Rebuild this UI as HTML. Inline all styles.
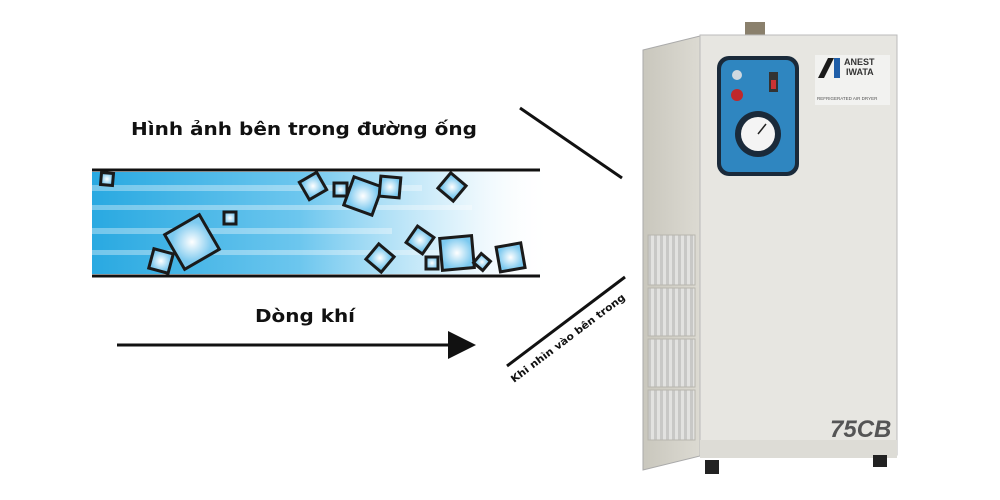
<!DOCTYPE html>
<html><head><meta charset="utf-8"><style>
html,body{margin:0;padding:0;background:#fff;width:1000px;height:500px;overflow:hidden}
svg{display:block}
text{font-family:"Liberation Sans","DejaVu Sans",sans-serif}
.dv{font-family:"DejaVu Sans","Liberation Sans",sans-serif}
</style></head><body>
<svg width="1000" height="500" viewBox="0 0 1000 500">
<defs>
<linearGradient id="flow" x1="0" x2="1" y1="0" y2="0">
<stop offset="0" stop-color="#29a9e1"/><stop offset="0.45" stop-color="#6cc6ee"/><stop offset="0.8" stop-color="#d9f0fb" stop-opacity="0.8"/><stop offset="1" stop-color="#fff" stop-opacity="0"/>
</linearGradient>
<radialGradient id="cube"><stop offset="0" stop-color="#fff"/><stop offset="1" stop-color="#7cc9ef"/></radialGradient>
<linearGradient id="side" x1="0" x2="1"><stop offset="0" stop-color="#c9c7bd"/><stop offset="1" stop-color="#dcdad2"/></linearGradient>
<pattern id="grill" width="6" height="4" patternUnits="userSpaceOnUse"><rect width="6" height="4" fill="#e2e2e0"/><rect width="3" height="4" fill="#c8c8c6"/></pattern>
</defs>
<rect x="92" y="172" width="460" height="102" fill="url(#flow)"/>
<g fill="#fff" opacity="0.35">
<rect x="92" y="185" width="330" height="6"/><rect x="92" y="205" width="380" height="5"/><rect x="92" y="228" width="300" height="6"/><rect x="92" y="250" width="350" height="5"/>
</g>
<line x1="92" y1="170" x2="540" y2="170" stroke="#111" stroke-width="3"/>
<line x1="92" y1="276" x2="540" y2="276" stroke="#111" stroke-width="3"/>
<g fill="url(#cube)" stroke="#1a1a1a" stroke-width="3">
<rect x="101" y="173" width="12" height="12" transform="rotate(5 107 179)"/>
<rect x="172" y="222" width="40" height="40" transform="rotate(-30 192 242)"/>
<rect x="151" y="251" width="20" height="20" transform="rotate(15 161 261)"/>
<rect x="224" y="212" width="12" height="12"/>
<rect x="303" y="176" width="20" height="20" transform="rotate(-30 313 186)"/>
<rect x="334" y="183" width="13" height="13"/>
<rect x="348" y="181" width="30" height="30" transform="rotate(20 363 196)"/>
<rect x="380" y="177" width="20" height="20" transform="rotate(5 390 187)"/>
<rect x="442" y="177" width="20" height="20" transform="rotate(40 452 187)"/>
<rect x="410" y="230" width="20" height="20" transform="rotate(35 420 240)"/>
<rect x="370" y="248" width="20" height="20" transform="rotate(40 380 258)"/>
<rect x="426" y="257" width="12" height="12"/>
<rect x="441" y="237" width="32" height="32" transform="rotate(-5 457 253)"/>
<rect x="476" y="256" width="12" height="12" transform="rotate(40 482 262)"/>
<rect x="498" y="245" width="25" height="25" transform="rotate(-10 510 257)"/>
</g>
<text class="dv" x="304" y="135" font-size="18" font-weight="bold" text-anchor="middle" fill="#111" textLength="346" lengthAdjust="spacingAndGlyphs">Hình ảnh bên trong đường ống</text>
<text class="dv" x="305" y="322" font-size="18" font-weight="bold" text-anchor="middle" fill="#111" textLength="100" lengthAdjust="spacingAndGlyphs">Dòng khí</text>
<line x1="117" y1="345" x2="452" y2="345" stroke="#111" stroke-width="3"/>
<polygon points="448,331 476,345 448,359" fill="#111"/>
<line x1="520" y1="108" x2="622" y2="178" stroke="#111" stroke-width="3"/>
<line x1="507" y1="366" x2="625" y2="277" stroke="#111" stroke-width="3"/>
<text class="dv" transform="translate(514,383) rotate(-37)" font-size="10" font-weight="bold" fill="#111" textLength="140" lengthAdjust="spacingAndGlyphs">Khi nhìn vào bên trong</text>
<rect x="745" y="22" width="20" height="16" fill="#8a806c"/>
<polygon points="643,50 700,36 700,456 643,470" fill="url(#side)" stroke="#aaa" stroke-width="1"/>
<g fill="url(#grill)" stroke="#b8b6ae" stroke-width="1">
<rect x="648" y="235" width="47" height="50"/><rect x="648" y="288" width="47" height="48"/><rect x="648" y="339" width="47" height="48"/><rect x="648" y="390" width="47" height="50"/>
</g>
<rect x="700" y="35" width="197" height="420" fill="#e7e6e1" stroke="#bbb" stroke-width="1"/>
<rect x="700" y="440" width="197" height="18" fill="#dddcd6"/>
<rect x="705" y="460" width="14" height="14" fill="#222"/><rect x="873" y="455" width="14" height="12" fill="#222"/>
<rect x="717" y="56" width="82" height="120" rx="12" fill="#1a2a3a"/>
<rect x="721" y="60" width="74" height="112" rx="9" fill="#2f86c0"/>
<circle cx="737" cy="75" r="5" fill="#cfd8e0"/><circle cx="737" cy="95" r="6" fill="#c0282a"/>
<rect x="769" y="72" width="9" height="20" fill="#333"/><rect x="771" y="80" width="5" height="9" fill="#c33"/>
<circle cx="758" cy="134" r="23" fill="#1a2a3a"/><circle cx="758" cy="134" r="17" fill="#f4f4f4"/>
<line x1="758" y1="134" x2="766" y2="124" stroke="#222" stroke-width="1.5"/>
<rect x="815" y="55" width="75" height="50" fill="#f2f2f0"/>
<polygon points="818,78 828,58 834,58 824,78" fill="#1a1a1a"/><rect x="834" y="58" width="6" height="20" fill="#1f5ea8"/>
<text x="844" y="65" font-size="9" font-weight="bold" fill="#333">ANEST</text>
<text x="846" y="75" font-size="9" font-weight="bold" fill="#333">IWATA</text>
<text x="817" y="100" font-size="4.5" fill="#555">REFRIGERATED AIR DRYER</text>
<text x="830" y="437" font-size="24" font-weight="bold" font-style="italic" fill="#555">75CB</text>
</svg>
</body></html>
